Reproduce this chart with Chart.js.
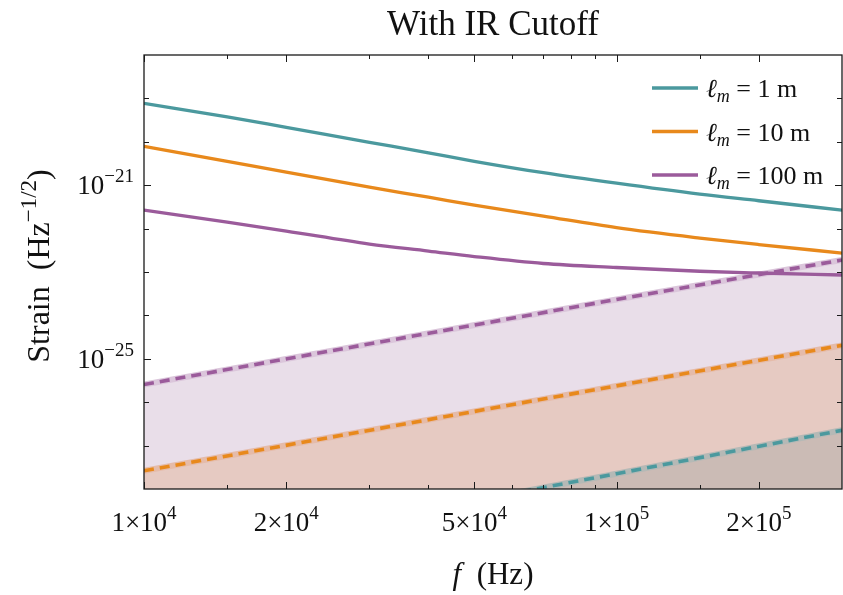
<!DOCTYPE html>
<html>
<head>
<meta charset="utf-8">
<script src="https://cdn.jsdelivr.net/npm/chart.js@4.4.1/dist/chart.umd.min.js"></script>
<style>
  html, body { margin: 0; padding: 0; background: #fff; }
  #wrap { width: 843px; height: 595px; }
</style>
</head>
<body>
<div id="wrap"><canvas id="strain-chart" width="843" height="595"></canvas></div>
<script>
// Frequency grid (Hz) for the full strain curves
const freq = [1e4, 1.5e4, 2e4, 3e4, 4e4, 5e4, 7e4, 1e5, 1.5e5, 2e5, 3e5];

// Strain (Hz^-1/2) for each mass length scale
const strain1m   = [7.67e-20, 3.76e-20, 2.15e-20, 9.75e-21, 5.58e-21, 3.56e-21, 1.94e-21, 1.11e-21, 6.21e-22, 4.38e-22, 2.66e-22];
const strain10m  = [7.89e-21, 3.56e-21, 1.99e-21, 9.0e-22, 5.30e-22, 3.47e-22, 1.94e-22, 1.05e-22, 6.05e-23, 4.29e-23, 2.73e-23];
const strain100m = [2.66e-22, 1.41e-22, 8.77e-23, 4.40e-23, 3.04e-23, 2.27e-23, 1.57e-23, 1.27e-23, 1.04e-23, 9.48e-24, 8.53e-24];

// IR cutoff floors (straight power laws in log-log)
const cutoffFreq = [1e4, 1e5, 3e5];
const cutoff1m   = [1.95e-30, 2.25e-28, 2.25e-27];
const cutoff10m  = [2.62e-28, 2.38e-26, 2.04e-25];
const cutoff100m = [2.56e-26, 2.33e-24, 1.89e-23];

const seriesLabels = ['1 m', '10 m', '100 m'];

// Axis ticks
const xMajorTicks = [1e4, 2e4, 5e4, 1e5, 2e5];
const xTickMantissa = ['1', '2', '5', '1', '2'];
const xTickExponent = ['4', '4', '4', '5', '5'];
const xMinorTicks = [1.5e4, 3e4, 4e4, 6e4, 7e4, 8e4, 9e4, 1.5e5];
const yDecadeTicks = [1e-27, 1e-26, 1e-25, 1e-24, 1e-23, 1e-22, 1e-21, 1e-20, 1e-19];
const yLabelTicks = [1e-21, 1e-25];
const yTickExponent = ['\u221221', '\u221225'];

const COLORS = {
  teal: '#4b999e',
  orange: '#e8891c',
  purple: '#9b5b9b',
};
const FILLS = { teal: '#cbbbb5', orange: '#e6cac2', purple: '#e9dee9' };
const HALOS = { teal: '#b5b9b6', orange: '#e5bba9', purple: '#dbc6db' };

const SERIF = '"Liberation Serif", "DejaVu Serif", serif';

function pts(xs, ys) {
  return xs.map((x, i) => ({ x, y: ys[i] }));
}

function solid(data, color) {
  return {
    data, borderColor: color, borderWidth: 3.3, fill: false,
    cubicInterpolationMode: 'monotone', pointRadius: 0, clip: 0,
  };
}

function dashed(data, color) {
  return {
    data, borderColor: color, borderWidth: 3.6, borderDash: [10, 6],
    fill: false, pointRadius: 0, clip: 0,
  };
}

function halo(data, line, area) {
  return {
    data, borderColor: line, borderWidth: 6, fill: 'start',
    backgroundColor: area, pointRadius: 0, clip: 0,
  };
}

// draw a row of text runs (for superscripts / italics) as one label
function drawRuns(ctx, runs, x, y, align) {
  let w = 0;
  runs.forEach(r => { ctx.font = r.font; r.w = ctx.measureText(r.text).width; w += r.w; });
  let cx = align === 'center' ? x - w / 2 : align === 'right' ? x - w : x;
  ctx.textAlign = 'left';
  ctx.textBaseline = 'alphabetic';
  runs.forEach(r => {
    ctx.font = r.font;
    ctx.fillText(r.text, cx, y + (r.dy || 0));
    cx += r.w;
  });
}

const axesPlugin = {
  id: 'axesPlugin',
  afterDraw(chart) {
    const { ctx, chartArea: a, scales: { x, y } } = chart;
    ctx.save();
    ctx.strokeStyle = '#1a1a1a';
    ctx.fillStyle = '#111';

    // frame
    ctx.lineWidth = 1.3;
    ctx.strokeRect(a.left, a.top, a.right - a.left, a.bottom - a.top);

    // inward ticks on all four sides
    ctx.lineWidth = 1;
    const xTick = (v, len) => {
      const px = Math.round(x.getPixelForValue(v)) + 0.5;
      ctx.beginPath();
      ctx.moveTo(px, a.bottom); ctx.lineTo(px, a.bottom - len);
      ctx.moveTo(px, a.top); ctx.lineTo(px, a.top + len);
      ctx.stroke();
    };
    xMajorTicks.forEach(v => xTick(v, 7));
    xMinorTicks.forEach(v => xTick(v, 4));
    yDecadeTicks.forEach(v => {
      const py = Math.round(y.getPixelForValue(v)) + 0.5;
      const len = yLabelTicks.includes(v) ? 7 : 5;
      ctx.beginPath();
      ctx.moveTo(a.left, py); ctx.lineTo(a.left + len, py);
      ctx.moveTo(a.right, py); ctx.lineTo(a.right - len, py);
      ctx.stroke();
    });

    // x tick labels
    xMajorTicks.forEach((v, i) => {
      drawRuns(ctx, [
        { text: xTickMantissa[i] + '\u00d710', font: '27px ' + SERIF },
        { text: xTickExponent[i], font: '19px ' + SERIF, dy: -12 },
      ], x.getPixelForValue(v), 531, 'center');
    });

    // y tick labels
    yLabelTicks.forEach((v, i) => {
      drawRuns(ctx, [
        { text: '10', font: '27px ' + SERIF },
        { text: yTickExponent[i], font: '19px ' + SERIF, dy: -12 },
      ], 134, y.getPixelForValue(v) + 9, 'right');
    });

    // title
    drawRuns(ctx, [{ text: 'With IR Cutoff', font: '35px ' + SERIF }],
      (a.left + a.right) / 2, 35, 'center');

    // x axis title
    drawRuns(ctx, [
      { text: 'f', font: 'italic 31px ' + SERIF },
      { text: '  (Hz)', font: '31px ' + SERIF },
    ], (a.left + a.right) / 2, 584, 'center');

    // y axis title
    ctx.save();
    ctx.translate(49, 266);
    ctx.rotate(-Math.PI / 2);
    drawRuns(ctx, [
      { text: 'Strain  (Hz', font: '32px ' + SERIF },
      { text: '\u22121/2', font: '23px ' + SERIF, dy: -13 },
      { text: ')', font: '32px ' + SERIF },
    ], 0, 0, 'center');
    ctx.restore();

    // legend
    const legendColors = [COLORS.teal, COLORS.orange, COLORS.purple];
    seriesLabels.forEach((lbl, i) => {
      const ly = 88 + i * 43.5;
      ctx.strokeStyle = legendColors[i];
      ctx.lineWidth = 3.3;
      ctx.beginPath();
      ctx.moveTo(652, ly); ctx.lineTo(698, ly);
      ctx.stroke();
      ctx.fillStyle = '#111';
      drawRuns(ctx, [
        { text: '\u2113', font: 'italic 26px ' + SERIF },
        { text: 'm', font: 'italic 18px ' + SERIF, dy: 5 },
        { text: ' = ' + lbl, font: '26px ' + SERIF },
      ], 706, ly + 9, 'left');
    });

    ctx.restore();
  }
};

const canvas = document.getElementById('strain-chart');
new Chart(canvas, {
  type: 'line',
  data: {
    datasets: [
      solid(pts(freq, strain1m), COLORS.teal),
      solid(pts(freq, strain10m), COLORS.orange),
      solid(pts(freq, strain100m), COLORS.purple),
      dashed(pts(cutoffFreq, cutoff1m), COLORS.teal),
      halo(pts(cutoffFreq, cutoff1m), HALOS.teal, FILLS.teal),
      dashed(pts(cutoffFreq, cutoff10m), COLORS.orange),
      halo(pts(cutoffFreq, cutoff10m), HALOS.orange, FILLS.orange),
      dashed(pts(cutoffFreq, cutoff100m), COLORS.purple),
      halo(pts(cutoffFreq, cutoff100m), HALOS.purple, FILLS.purple),
    ]
  },
  options: {
    responsive: false,
    animation: false,
    layout: { padding: { left: 144, top: 55, right: 1, bottom: 106 } },
    plugins: {
      legend: { display: false },
      tooltip: { enabled: false },
    },
    scales: {
      x: { type: 'logarithmic', min: 1e4, max: 3e5, display: false },
      y: { type: 'logarithmic', min: 1e-28, max: 1e-18, display: false },
    }
  },
  plugins: [axesPlugin]
});
</script>
</body>
</html>
